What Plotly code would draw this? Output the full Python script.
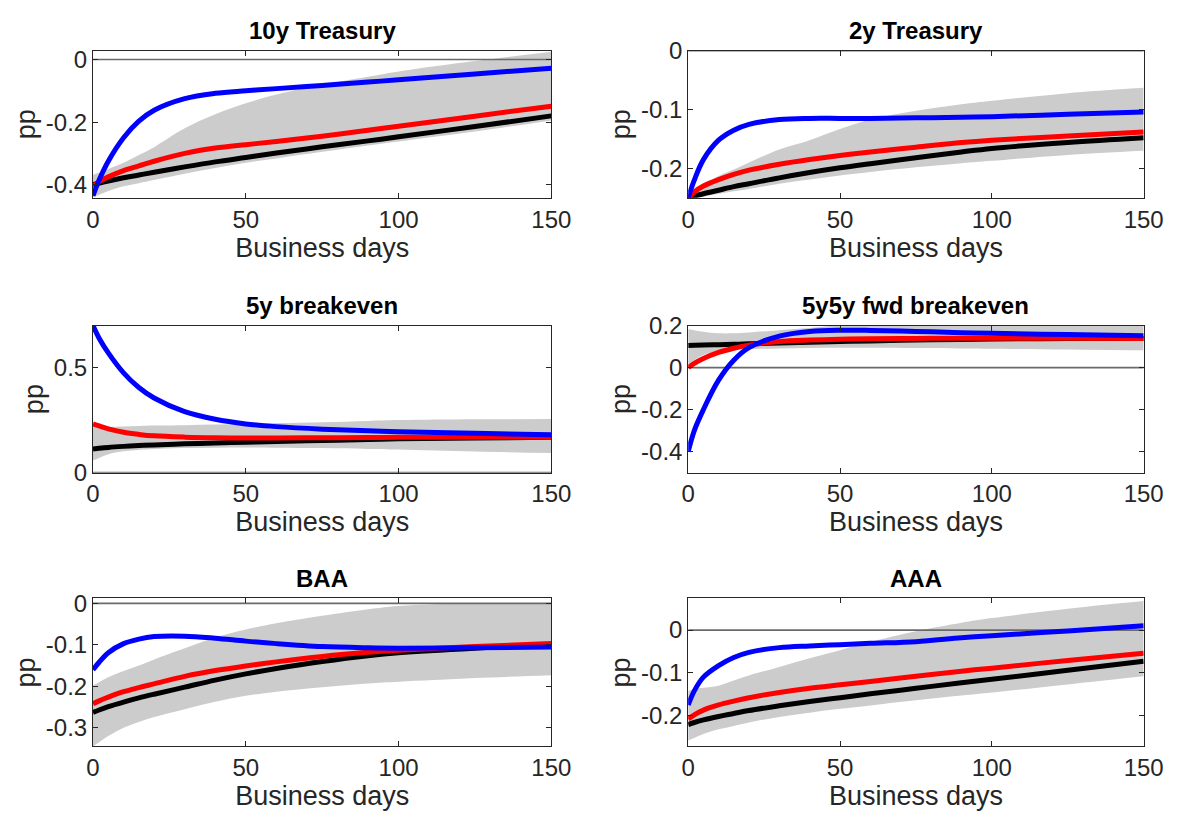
import plotly.graph_objects as go
from plotly.subplots import make_subplots

# Horizon (business days) at which each response is sampled
DAYS = [0, 2, 5, 10, 15, 20, 30, 40, 50, 60, 75, 90, 100, 125, 150]

PANEL_TITLES = ["10y Treasury", "2y Treasury", "5y breakeven",
                "5y5y fwd breakeven", "BAA", "AAA"]

# 10y Treasury
t10_black = [-0.400, -0.395, -0.388, -0.378, -0.369, -0.360, -0.343, -0.327, -0.313, -0.299, -0.279, -0.260, -0.247, -0.214, -0.180]
t10_red = [-0.405, -0.390, -0.375, -0.355, -0.340, -0.325, -0.300, -0.283, -0.272, -0.262, -0.245, -0.226, -0.213, -0.181, -0.149]
t10_blue = [-0.435, -0.385, -0.325, -0.250, -0.197, -0.162, -0.125, -0.108, -0.100, -0.093, -0.083, -0.072, -0.065, -0.046, -0.028]
t10_lo = [-0.440, -0.432, -0.420, -0.405, -0.395, -0.385, -0.365, -0.347, -0.330, -0.316, -0.295, -0.275, -0.262, -0.230, -0.195]
t10_hi = [-0.368, -0.362, -0.350, -0.330, -0.305, -0.280, -0.220, -0.175, -0.140, -0.112, -0.080, -0.055, -0.038, -0.005, 0.025]

# 2y Treasury
t2_black = [-0.250, -0.247, -0.243, -0.237, -0.231, -0.226, -0.216, -0.207, -0.199, -0.192, -0.182, -0.172, -0.166, -0.156, -0.148]
t2_red = [-0.250, -0.240, -0.230, -0.219, -0.210, -0.203, -0.193, -0.185, -0.178, -0.172, -0.164, -0.156, -0.152, -0.145, -0.138]
t2_blue = [-0.250, -0.220, -0.185, -0.152, -0.135, -0.125, -0.117, -0.115, -0.115, -0.115, -0.114, -0.113, -0.112, -0.108, -0.104]
t2_lo = [-0.250, -0.249, -0.248, -0.243, -0.239, -0.235, -0.226, -0.219, -0.212, -0.206, -0.198, -0.191, -0.187, -0.177, -0.170]
t2_hi = [-0.250, -0.240, -0.228, -0.213, -0.202, -0.190, -0.168, -0.152, -0.133, -0.117, -0.102, -0.091, -0.085, -0.072, -0.063]

# 5y breakeven
be5_black = [0.113, 0.116, 0.120, 0.125, 0.129, 0.132, 0.137, 0.141, 0.145, 0.148, 0.153, 0.158, 0.161, 0.165, 0.168]
be5_red = [0.232, 0.222, 0.208, 0.192, 0.182, 0.175, 0.169, 0.166, 0.165, 0.165, 0.166, 0.167, 0.168, 0.168, 0.168]
be5_blue = [0.700, 0.640, 0.570, 0.475, 0.405, 0.355, 0.290, 0.254, 0.232, 0.219, 0.207, 0.199, 0.195, 0.187, 0.180]
be5_lo = [0.058, 0.070, 0.088, 0.102, 0.108, 0.112, 0.117, 0.119, 0.120, 0.119, 0.117, 0.113, 0.110, 0.100, 0.093]
be5_hi = [0.220, 0.219, 0.218, 0.220, 0.222, 0.224, 0.226, 0.229, 0.233, 0.236, 0.240, 0.246, 0.250, 0.254, 0.255]

# 5y5y forward breakeven
fw_black = [0.105, 0.106, 0.107, 0.109, 0.111, 0.113, 0.117, 0.121, 0.124, 0.127, 0.131, 0.134, 0.136, 0.138, 0.139]
fw_red = [0.000, 0.020, 0.043, 0.072, 0.092, 0.107, 0.124, 0.131, 0.135, 0.137, 0.139, 0.140, 0.140, 0.140, 0.139]
fw_blue = [-0.400, -0.300, -0.200, -0.060, 0.035, 0.095, 0.150, 0.172, 0.178, 0.177, 0.172, 0.166, 0.163, 0.157, 0.152]
fw_lo = [0.010, 0.035, 0.060, 0.078, 0.085, 0.088, 0.091, 0.093, 0.094, 0.094, 0.093, 0.091, 0.090, 0.086, 0.082]
fw_hi = [0.182, 0.178, 0.170, 0.163, 0.163, 0.167, 0.178, 0.188, 0.203, 0.213, 0.220, 0.224, 0.225, 0.225, 0.225]

# BAA
baa_black = [-0.263, -0.257, -0.249, -0.238, -0.228, -0.219, -0.202, -0.185, -0.170, -0.157, -0.140, -0.126, -0.119, -0.108, -0.100]
baa_red = [-0.242, -0.235, -0.226, -0.213, -0.203, -0.194, -0.176, -0.162, -0.151, -0.141, -0.128, -0.118, -0.113, -0.104, -0.097]
baa_blue = [-0.160, -0.142, -0.119, -0.097, -0.086, -0.080, -0.079, -0.084, -0.091, -0.097, -0.104, -0.107, -0.108, -0.107, -0.105]
baa_lo = [-0.345, -0.335, -0.320, -0.300, -0.286, -0.274, -0.255, -0.237, -0.223, -0.213, -0.202, -0.193, -0.189, -0.180, -0.173]
baa_hi = [-0.198, -0.190, -0.178, -0.163, -0.150, -0.135, -0.108, -0.082, -0.063, -0.048, -0.030, -0.014, -0.006, 0.000, 0.000]

# AAA
aaa_black = [-0.221, -0.216, -0.210, -0.202, -0.195, -0.188, -0.177, -0.167, -0.158, -0.149, -0.136, -0.123, -0.115, -0.094, -0.073]
aaa_red = [-0.208, -0.198, -0.187, -0.175, -0.166, -0.158, -0.146, -0.136, -0.128, -0.120, -0.108, -0.096, -0.089, -0.071, -0.054]
aaa_blue = [-0.175, -0.142, -0.110, -0.083, -0.064, -0.052, -0.041, -0.037, -0.034, -0.031, -0.027, -0.018, -0.013, -0.002, 0.010]
aaa_lo = [-0.258, -0.252, -0.243, -0.232, -0.224, -0.216, -0.203, -0.193, -0.184, -0.176, -0.164, -0.153, -0.146, -0.127, -0.108]
aaa_hi = [-0.142, -0.138, -0.135, -0.130, -0.118, -0.106, -0.086, -0.066, -0.047, -0.028, -0.003, 0.017, 0.028, 0.050, 0.068]

X_TICKS = [0, 50, 100, 150]
Y_TICKS = [
    [-0.4, -0.2, 0],
    [-0.2, -0.1, 0],
    [0, 0.5],
    [-0.4, -0.2, 0, 0.2],
    [-0.3, -0.2, -0.1, 0],
    [-0.2, -0.1, 0],
]
Y_RANGES = [
    [-0.442, 0.028],
    [-0.25, 0.0],
    [0.0, 0.7],
    [-0.5, 0.2],
    [-0.345, 0.012],
    [-0.272, 0.074],
]

panels = [
    (t10_black, t10_red, t10_blue, t10_lo, t10_hi),
    (t2_black, t2_red, t2_blue, t2_lo, t2_hi),
    (be5_black, be5_red, be5_blue, be5_lo, be5_hi),
    (fw_black, fw_red, fw_blue, fw_lo, fw_hi),
    (baa_black, baa_red, baa_blue, baa_lo, baa_hi),
    (aaa_black, aaa_red, aaa_blue, aaa_lo, aaa_hi),
]

W, H = 1192, 833
# Axes boxes in pixels: (left, right) per column, (top, bottom) per row
COLS = [(88, 557), (697, 1163)]
ROWS = [(38, 190), (322, 474), (604, 757)]

FONT = "Liberation Sans, Arial, Helvetica, sans-serif"
AXIS_COLOR = "#262626"
BAND_COLOR = "#cccccc"
SMOOTH = 1.0

fig = make_subplots(rows=3, cols=2)


def fmt(v):
    return "0" if v == 0 else "%g" % v


for i, (blk, red, blu, lo, hi) in enumerate(panels):
    r, c = i // 2 + 1, i % 2 + 1
    # confidence band
    fig.add_trace(go.Scatter(x=DAYS, y=lo, mode="lines",
                             line=dict(width=0, shape="spline", smoothing=SMOOTH),
                             showlegend=False, hoverinfo="skip"), row=r, col=c)
    fig.add_trace(go.Scatter(x=DAYS, y=hi, mode="lines",
                             line=dict(width=0, shape="spline", smoothing=SMOOTH),
                             fill="tonexty", fillcolor=BAND_COLOR, showlegend=False, hoverinfo="skip"),
                  row=r, col=c)
    # zero reference line
    fig.add_trace(go.Scatter(x=[X_TICKS[0], X_TICKS[-1]], y=[0, 0], mode="lines",
                             line=dict(color="#6a6a6a", width=1.6), showlegend=False, hoverinfo="skip"),
                  row=r, col=c)
    for ys, col in ((blk, "#000000"), (red, "#ff0000"), (blu, "#0000ff")):
        fig.add_trace(go.Scatter(x=DAYS, y=ys, mode="lines",
                                 line=dict(color=col, width=5, shape="spline", smoothing=SMOOTH),
                                 showlegend=False), row=r, col=c)

    xl, xr = COLS[c - 1]
    yt, yb = ROWS[r - 1]
    xdom = [xl / W, xr / W]
    ydom = [1 - yb / H, 1 - yt / H]
    axis_common = dict(showline=True, linecolor=AXIS_COLOR, linewidth=1, mirror="allticks",
                       ticks="inside", ticklen=5, tickwidth=1, tickcolor=AXIS_COLOR,
                       showgrid=False, zeroline=False,
                       tickfont=dict(family=FONT, size=24, color=AXIS_COLOR))
    fig.update_xaxes(domain=xdom, range=[0, 150], tickvals=X_TICKS,
                     ticktext=[str(v) for v in X_TICKS],
                     title=dict(text="Business days", font=dict(family=FONT, size=27, color=AXIS_COLOR),
                                standoff=4),
                     **axis_common, row=r, col=c)
    fig.update_yaxes(domain=ydom, range=Y_RANGES[i], tickvals=Y_TICKS[i],
                     ticktext=[fmt(v) for v in Y_TICKS[i]],
                     title=dict(text="pp", font=dict(family=FONT, size=27, color=AXIS_COLOR),
                                standoff=2),
                     **axis_common, row=r, col=c)
    fig.add_annotation(text="<b>%s</b>" % PANEL_TITLES[i], xref="paper", yref="paper",
                       x=(xdom[0] + xdom[1]) / 2, y=ydom[1] + 5 / H, xanchor="center", yanchor="bottom",
                       showarrow=False, font=dict(family=FONT, size=24, color="#000000"))

fig.update_layout(width=W, height=H, margin=dict(l=0, r=0, t=0, b=0),
                  paper_bgcolor="white", plot_bgcolor="white", showlegend=False)

fig.write_html("out.html")
